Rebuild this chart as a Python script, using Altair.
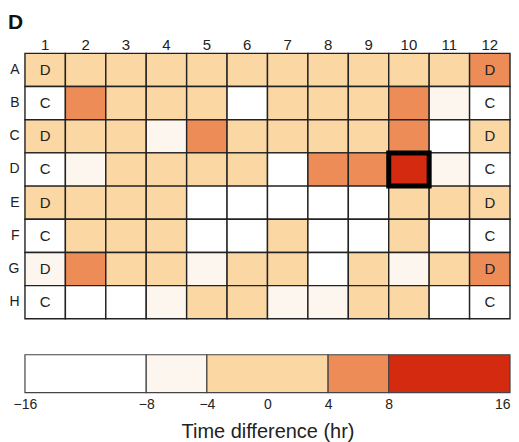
import altair as alt
import pandas as pd

rows = list("ABCDEFGH")
cols = list(range(1, 13))

# time difference (hr) per well, estimated from the binned colours
row_A = [0, 0, 0, 0, 0, 0, 0, 0, 0, 0, 0, 6]
row_B = [-12, 6, 0, 0, 0, -12, 0, 0, 0, 6, -6, -12]
row_C = [0, 0, 0, -6, 6, 0, 0, 0, 0, 6, -12, 0]
row_D = [-12, -6, 0, 0, 0, 0, -12, 6, 6, 12, -6, -12]
row_E = [0, 0, 0, 0, -12, -12, -12, -12, -12, 0, 0, 0]
row_F = [-12, 0, 0, 0, -12, -12, 0, -12, -12, 0, -12, -12]
row_G = [-6, 6, 0, 0, -6, 0, 0, -12, 0, -6, 0, 6]
row_H = [-12, -12, -12, -6, 0, 0, -6, -6, 0, 0, -12, -12]
grid_values = [row_A, row_B, row_C, row_D, row_E, row_F, row_G, row_H]

edge_labels = ["D", "C", "D", "C", "D", "C", "D", "C"]  # wells in columns 1 and 12
highlight_row, highlight_col = "D", 10

bin_edges = [-16, -8, -4, 4, 8, 16]
bin_colors = ["#ffffff", "#fcf6ee", "#fad7a3", "#ee8c58", "#d42a10"]
axis_ticks = [-16, -8, -4, 0, 4, 8, 16]

FONT = "Liberation Sans"

recs = []
for ri, r in enumerate(rows):
    for ci, c in enumerate(cols):
        lab = edge_labels[ri] if c in (1, 12) else ""
        recs.append({"row": r, "col": c, "value": grid_values[ri][ci], "label": lab,
                     "hl": (r == highlight_row and c == highlight_col)})
df = pd.DataFrame(recs)

base = alt.Chart(df).encode(
    x=alt.X("col:O", sort=cols,
            scale=alt.Scale(paddingInner=0, paddingOuter=0),
            axis=alt.Axis(orient="top", ticks=False, domain=False, labelAngle=0, title=None,
                          labelFontSize=15, labelPadding=1, labelColor="#222", labelFont=FONT)),
    y=alt.Y("row:O", sort=rows,
            scale=alt.Scale(paddingInner=0, paddingOuter=0),
            axis=alt.Axis(ticks=False, domain=False, title=None, labelFontSize=14,
                          labelPadding=6, labelColor="#222", labelFont=FONT)),
)

cells = base.mark_rect(stroke="#222", strokeWidth=1.4).encode(
    color=alt.Color("value:Q",
                    scale=alt.Scale(type="threshold", domain=bin_edges[1:-1], range=bin_colors),
                    legend=None)
)
texts = base.transform_filter("datum.label != ''").mark_text(
    fontSize=15, color="#222", font=FONT).encode(text="label:N")
hl = base.transform_filter("datum.hl").mark_rect(
    fillOpacity=0, stroke="black", strokeWidth=5)

heat = alt.layer(cells, texts, hl).properties(width=486, height=266)

leg_df = pd.DataFrame({"lo": bin_edges[:-1], "hi": bin_edges[1:], "color": bin_colors})
legend = alt.Chart(leg_df).mark_rect(stroke="#444", strokeWidth=1.2).encode(
    x=alt.X("lo:Q",
            scale=alt.Scale(domain=[bin_edges[0], bin_edges[-1]], nice=False, zero=False),
            axis=alt.Axis(values=axis_ticks, ticks=False, domain=False, grid=False,
                          title="Time difference (hr)", titleFontSize=20, titleFontWeight="normal",
                          titleFont=FONT, titleColor="#222", titlePadding=10,
                          labelFontSize=14, labelFont=FONT, labelColor="#222", labelPadding=5,
                          labelAlign={"condition": {"test": "datum.value == 16", "value": "right"},
                                      "value": "center"})),
    x2="hi:Q",
    color=alt.Color("color:N", scale=None),
).properties(width=486, height=38)

chart = alt.vconcat(heat, legend, spacing=34).properties(
    title=alt.TitleParams("D", anchor="start", fontSize=21, fontWeight="bold", font=FONT,
                          color="#111", offset=4),
    padding={"left": 0, "top": 4, "right": 0, "bottom": 0},
).configure_view(strokeWidth=0)

chart.save("out.html", embed_options={"renderer": "svg", "actions": False})
